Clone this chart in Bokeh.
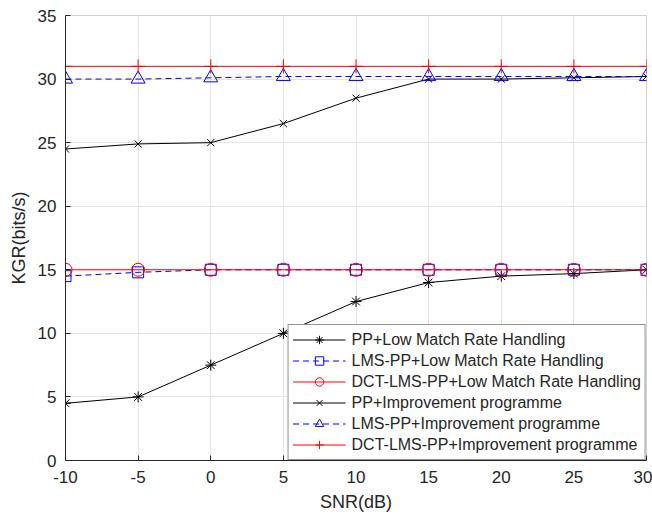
from bokeh.plotting import figure
from bokeh.models import Legend, LegendItem, FixedTicker, Range1d
from bokeh.embed import file_html
from bokeh.resources import INLINE

snr = [-10, -5, 0, 5, 10, 15, 20, 25, 30]
pp_low = [4.5, 5.0, 7.5, 10.0, 12.5, 14.0, 14.5, 14.7, 15.0]
lms_low = [14.5, 14.8, 15.0, 15.0, 15.0, 15.0, 15.0, 15.0, 15.0]
dct_low = [15.0, 15.0, 15.0, 15.0, 15.0, 15.0, 15.0, 15.0, 15.0]
pp_imp = [24.5, 24.9, 25.0, 26.5, 28.5, 30.0, 30.0, 30.1, 30.2]
lms_imp = [30.0, 30.0, 30.1, 30.2, 30.2, 30.2, 30.2, 30.2, 30.2]
dct_imp = [31.0, 31.0, 31.0, 31.0, 31.0, 31.0, 31.0, 31.0, 31.0]
labels = ["PP+Low Match Rate Handling", "LMS-PP+Low Match Rate Handling",
          "DCT-LMS-PP+Low Match Rate Handling", "PP+Improvement programme",
          "LMS-PP+Improvement programme", "DCT-LMS-PP+Improvement programme"]
x_ticks = [-10, -5, 0, 5, 10, 15, 20, 25, 30]
x_tick_labels = ["-10", "-5", "0", "5", "10", "15", "20", "25", "30"]
y_ticks = [0, 5, 10, 15, 20, 25, 30, 35]

FONT = "Liberation Sans"

p = figure(width=652, height=515, output_backend="svg", toolbar_location=None,
           x_range=Range1d(-10, 30), y_range=Range1d(0, 35),
           min_border_left=65, min_border_right=6, min_border_top=15, min_border_bottom=55)
p.frame_width = 581
p.frame_height = 445
p.outline_line_color = "#d0d0d0"
p.background_fill_color = "white"
p.border_fill_color = "white"

for ax, ticks in ((p.xaxis, x_ticks), (p.yaxis, y_ticks)):
    ax.ticker = FixedTicker(ticks=ticks)
    ax.major_tick_in = 5
    ax.major_tick_out = 0
    ax.minor_tick_line_color = None
    ax.axis_line_color = "#262626"
    ax.major_tick_line_color = "#262626"
    ax.major_label_text_font = FONT
    ax.major_label_text_font_size = "17px"
    ax.major_label_text_color = "#262626"
    ax.axis_label_text_font = FONT
    ax.axis_label_text_font_size = "18px"
    ax.axis_label_text_font_style = "normal"
    ax.axis_label_text_color = "#262626"
p.xaxis.major_label_overrides = {t: s for t, s in zip(x_ticks, x_tick_labels)}
p.xaxis.axis_label = "SNR(dB)"
p.yaxis.axis_label = "KGR(bits/s)"
p.xaxis.major_label_standoff = 10
p.yaxis.major_label_standoff = 9
p.xaxis.axis_label_standoff = 6
p.yaxis.axis_label_standoff = 6
p.xgrid.grid_line_color = "#e3e3e3"
p.ygrid.grid_line_color = "#e3e3e3"

series = [
    (pp_low, "black", "solid", "asterisk", 11),
    (lms_low, "blue", "6 4", "square", 11),
    (dct_low, "red", "solid", "circle", 13),
    (pp_imp, "black", "solid", "x", 10),
    (lms_imp, "blue", "6 4", "triangle", 14),
    (dct_imp, "red", "solid", "cross", 14),
]
items = []
for (ys, col, dash, mk, sz), lab in zip(series, labels):
    r1 = p.line(snr, ys, line_color=col, line_width=1, line_dash=dash)
    r2 = p.scatter(snr, ys, marker=mk, size=sz, line_color=col, fill_color=None, line_width=1)
    items.append(LegendItem(label=lab, renderers=[r1, r2]))

legend = Legend(items=items, location="bottom_right", margin=0, padding=4, spacing=0,
                label_text_font=FONT, label_text_font_size="16px", label_text_color="#262626",
                glyph_width=53, glyph_height=21, label_height=21, label_standoff=6,
                border_line_color="#262626", border_line_width=1, background_fill_alpha=1)
p.add_layout(legend)

open("out.html", "w").write(file_html(p, INLINE))
